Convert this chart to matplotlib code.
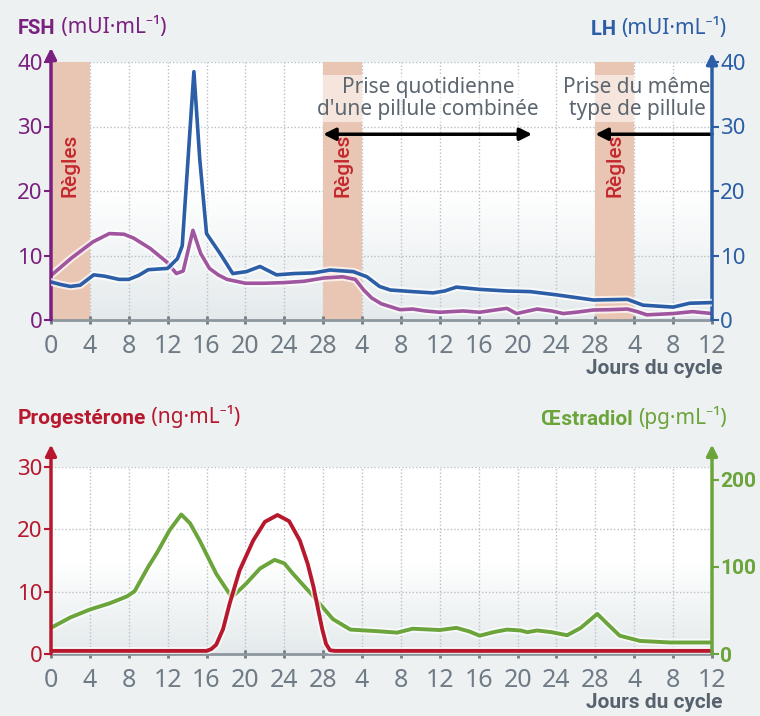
import matplotlib
matplotlib.use("Agg")
import matplotlib.pyplot as plt
import matplotlib.patheffects as pe
from matplotlib.colors import LinearSegmentedColormap
import numpy as np

plt.rcParams['font.family'] = ['Noto Sans', 'DejaVu Sans']
BOLD = dict(fontweight='bold', family=['Roboto', 'DejaVu Sans'])

# ---------------- data ----------------
tick_pos = list(range(0, 69, 4))
tick_labels = ['0', '4', '8', '12', '16', '20', '24', '28',
               '4', '8', '12', '16', '20', '24', '28',
               '4', '8', '12']
regles_spans = [(0, 4), (28, 32), (56, 60)]

fsh_days = [0, 2.1, 4.3, 6, 7.5, 8.5, 10.2, 11.9, 12.9, 13.6, 14.6, 15.4, 16.3, 17.2, 18.1, 20,
            22, 24, 26, 28, 30, 31.3, 32.2, 33, 34, 35.9, 37.2, 38.5, 40, 42.4, 44.1, 45.9,
            46.9, 47.9, 50, 51.5, 52.7, 54, 55.8, 57.5, 59.3, 60.3, 61.3, 64, 66, 68]
fsh_vals = [6.9, 9.6, 12.1, 13.4, 13.3, 12.7, 11.1, 9.0, 7.2, 7.6, 13.9, 10.3, 8.0, 7.0, 6.3, 5.7,
            5.7, 5.8, 6.0, 6.5, 6.7, 6.3, 4.6, 3.4, 2.5, 1.6, 1.7, 1.4, 1.2, 1.4, 1.2, 1.6,
            1.8, 1.0, 1.7, 1.4, 1.0, 1.2, 1.55, 1.6, 1.7, 1.3, 0.8, 1.0, 1.3, 1.0]

lh_days = [0, 1, 2, 3, 4.4, 5.5, 7, 8, 9, 10, 12, 13, 13.5, 14.1, 14.7, 15.3, 16, 17.4, 18.7,
           20.1, 21.5, 23.2, 25, 27, 28.7, 31.1, 32.5, 33.8, 34.9, 37.2, 39.3, 40.5, 41.7, 44.1,
           46.9, 49.3, 52, 55.8, 59.3, 60.9, 64, 65.7, 68]
lh_vals = [5.9, 5.5, 5.2, 5.4, 7.0, 6.8, 6.3, 6.3, 6.9, 7.8, 8.0, 9.5, 11.5, 25, 38.5, 25, 13.4,
           10.3, 7.2, 7.5, 8.3, 7.0, 7.2, 7.3, 7.75, 7.5, 6.7, 5.2, 4.65, 4.4, 4.2, 4.5, 5.1, 4.75,
           4.5, 4.4, 3.9, 3.1, 3.2, 2.3, 2.0, 2.6, 2.7]

prog_days = [0, 16, 16.5, 17, 17.7, 18.4, 19.4, 20.8, 22, 23.3, 24.5, 25.6, 26.4, 27, 27.5,
             27.9, 28.3, 28.7, 29.2, 68]
prog_vals = [0.5, 0.5, 0.8, 1.5, 4.0, 8.2, 13.4, 18.2, 21.2, 22.3, 21.3, 18.2, 14.5, 10.8, 7.0,
             4.0, 1.6, 0.6, 0.5, 0.5]

estr_days = [0, 2, 4, 6, 7.8, 8.6, 10, 10.9, 12.2, 13.4, 14.3, 15.3, 17, 18.6, 20.1, 21.5, 23,
             24, 24.9, 27, 29, 30.8, 33.8, 35.6, 37.2, 40, 41.7, 43, 44.1, 45.5, 46.9, 48.3, 49,
             50, 51.5, 53.1, 54.5, 56.2, 57.2, 58.5, 60.6, 63.7, 67.5, 68]
estr_vals = [30, 42, 51, 58, 66, 72, 100, 116, 142, 160, 150, 130, 92, 65, 81, 98, 108,
             104, 92, 66, 40, 28, 26, 24.5, 29, 27.5, 30, 26, 21, 25, 28, 27, 25,
             27, 25, 21.5, 30, 46, 35, 21, 15, 13.2, 13.2, 13.2]

# ---------------- colours ----------------
C_FSH_AX = '#7a2080'
C_FSH = '#a0569f'
C_LH = '#2b5ea6'
C_PROG = '#b8182e'
C_ESTR = '#6aa43a'
C_BAND = '#e9c6b3'
C_TICK = '#6f7b86'
C_TEXT = '#5b6670'
BG = '#eef1f1'

fig = plt.figure(figsize=(7.6, 7.16), dpi=100, facecolor=BG)

grad_cmap = LinearSegmentedColormap.from_list('g', ['#ffffff', '#ffffff', '#e4eaec'])
grad = np.linspace(0, 1, 256).reshape(-1, 1)

glow = [pe.Stroke(linewidth=5.5, foreground='white', alpha=0.7), pe.Normal()]


def make_panel(rect, ymax, grid_levels):
    bg = fig.add_axes(rect, zorder=0)
    bg.imshow(grad, extent=[0, 1, 0, 1], transform=bg.transAxes, aspect='auto',
              cmap=grad_cmap, zorder=-10)
    bg.set_xlim(0, 68)
    bg.set_ylim(0, ymax)
    bg.axis('off')
    for x in tick_pos[1:-1]:
        bg.axvline(x, color='#b9c0c6', lw=1, ls=(0, (1, 1.5)), zorder=0)
    for y in grid_levels:
        bg.axhline(y, color='#b9c0c6', lw=1, ls=(0, (1, 1.5)), zorder=0)

    ax = fig.add_axes(rect, zorder=3)
    ax.patch.set_visible(False)
    ax.set_xlim(0, 68)
    ax.set_ylim(0, ymax)
    for s in ['top', 'left', 'right']:
        ax.spines[s].set_visible(False)
    ax.spines['bottom'].set_color('#8d979e')
    ax.spines['bottom'].set_linewidth(2)
    ax.set_xticks(tick_pos)
    ax.set_xticklabels(tick_labels)
    ax.tick_params(axis='x', colors=C_TICK, labelsize=18, length=6, width=2,
                   direction='inout', pad=7)
    axb = fig.add_axes(rect, zorder=2)
    axb.patch.set_visible(False)
    axb.set_xlim(0, 68)
    axb.yaxis.tick_right()
    axb.set_xticks([])
    for s in ['top', 'left', 'right', 'bottom']:
        axb.spines[s].set_visible(False)
    return bg, ax, axb


# ================= top chart =================
rect1 = [51 / 760, 1 - 320 / 716, 661 / 760, 258 / 716]
bg1, ax1, ax1b = make_panel(rect1, 40, [10, 20, 30, 40])
for a, b in regles_spans:
    bg1.axvspan(a, b, ymin=0, ymax=1, color=C_BAND, zorder=1, lw=0)
    bg1.text((a + b) / 2, 24, 'Règles', rotation=90, ha='center', va='center',
             color='#c3282d', fontsize=15, fontweight='medium',
             family=['Roboto', 'DejaVu Sans'], zorder=2)

ax1.plot(fsh_days, fsh_vals, color=C_FSH, lw=2.6, zorder=5, path_effects=glow,
         solid_joinstyle='round')
ax1.set_yticks([0, 10, 20, 30, 40])
ax1.tick_params(axis='y', colors=C_FSH_AX, labelsize=16, length=5, width=1.5, pad=1)

ax1b.set_ylim(0, 40)
ax1b.plot(lh_days, lh_vals, color=C_LH, lw=2.6, zorder=5, path_effects=glow,
          solid_joinstyle='round')
ax1b.set_yticks([0, 10, 20, 30, 40])
ax1b.tick_params(axis='y', colors=C_LH, labelsize=16, length=5, width=1.5, pad=1)
ax1b.set_zorder(4)

# axis arrows
ax1.annotate('', xy=(0, 1.055), xytext=(0, 0), xycoords='axes fraction',
             arrowprops=dict(arrowstyle='-|>', color=C_FSH_AX, lw=2.5, mutation_scale=16,
                             shrinkA=0, shrinkB=0), annotation_clip=False, zorder=10)
ax1.annotate('', xy=(1, 1.035), xytext=(1, 0), xycoords='axes fraction',
             arrowprops=dict(arrowstyle='-|>', color=C_LH, lw=2.5, mutation_scale=16,
                             shrinkA=0, shrinkB=0), annotation_clip=False, zorder=10)

# annotations
box = dict(facecolor='white', alpha=0.55, edgecolor='none', pad=1.5)
bg1.text(38.8, 34.3, "Prise quotidienne\nd'une pillule combinée", ha='center', va='center',
         color=C_TEXT, fontsize=15, linespacing=1.05, bbox=box, zorder=3)
bg1.text(60.3, 34.3, "Prise du même\ntype de pillule", ha='center', va='center',
         color=C_TEXT, fontsize=15, linespacing=1.05, bbox=box, zorder=3)
ax1.annotate('', xy=(28, 28.8), xytext=(49.5, 28.8), xycoords='data',
             arrowprops=dict(arrowstyle='<|-|>', color='black', lw=2.5, mutation_scale=18,
                             shrinkA=0, shrinkB=0), zorder=6)
ax1.annotate('', xy=(56, 28.8), xytext=(68, 28.8), xycoords='data',
             arrowprops=dict(arrowstyle='-|>', color='black', lw=2.5, mutation_scale=18,
                             shrinkA=0, shrinkB=0), zorder=6)

fig.text(723 / 760, 1 - 369 / 716, 'Jours du cycle', ha='right', va='center',
         color='#56636f', fontsize=15, **BOLD)

t = fig.text(18 / 760, 1 - 34 / 716, 'FSH', ha='left', va='baseline', color=C_FSH_AX,
             fontsize=14.5, **BOLD)
ax1.annotate(' (mUI·mL⁻¹)', xy=(1, 0), xycoords=t, ha='left', va='bottom',
             color=C_FSH_AX, fontsize=15, annotation_clip=False)
t2 = fig.text(726 / 760, 1 - 34 / 716, '(mUI·mL⁻¹)', ha='right', va='baseline', color=C_LH,
              fontsize=15)
ax1.annotate('LH ', xy=(0, 0), xycoords=t2, ha='right', va='bottom', color=C_LH,
             fontsize=14.5, annotation_clip=False, **BOLD)

# ================= bottom chart =================
rect2 = [51 / 760, 1 - 654 / 716, 661 / 760, 187 / 716]
bg2, ax2, ax2b = make_panel(rect2, 30, [10, 20, 30])
ax2.plot(prog_days, prog_vals, color=C_PROG, lw=2.8, zorder=6, path_effects=glow,
         solid_joinstyle='round')
ax2.set_yticks([0, 10, 20, 30])
ax2.tick_params(axis='y', colors=C_PROG, labelsize=16, length=5, width=1.5, pad=1)

ax2b.set_ylim(0, 214.5)
ax2b.plot(estr_days, estr_vals, color=C_ESTR, lw=2.8, zorder=5, path_effects=glow,
          solid_joinstyle='round')
ax2b.set_yticks([0, 100, 200])
ax2b.tick_params(axis='y', colors=C_ESTR, labelsize=15, length=5, width=1.5, pad=1)
for lab in ax2b.get_yticklabels():
    lab.set_fontweight('bold')
    lab.set_family(['Roboto', 'DejaVu Sans'])

ax2.annotate('', xy=(0, 1.12), xytext=(0, 0), xycoords='axes fraction',
             arrowprops=dict(arrowstyle='-|>', color=C_PROG, lw=2.5, mutation_scale=16,
                             shrinkA=0, shrinkB=0), annotation_clip=False, zorder=10)
ax2.annotate('', xy=(1, 1.12), xytext=(1, 0), xycoords='axes fraction',
             arrowprops=dict(arrowstyle='-|>', color=C_ESTR, lw=2.5, mutation_scale=16,
                             shrinkA=0, shrinkB=0), annotation_clip=False, zorder=10)

fig.text(723 / 760, 1 - 703 / 716, 'Jours du cycle', ha='right', va='center',
         color='#56636f', fontsize=15, **BOLD)

t3 = fig.text(18 / 760, 1 - 424 / 716, 'Progestérone', ha='left', va='baseline', color=C_PROG,
              fontsize=15, **BOLD)
ax2.annotate(' (ng·mL⁻¹)', xy=(1, 0), xycoords=t3, ha='left', va='bottom',
             color=C_PROG, fontsize=15, annotation_clip=False)
t4 = fig.text(727 / 760, 1 - 424 / 716, '(pg·mL⁻¹)', ha='right', va='baseline', color=C_ESTR,
              fontsize=15)
ax2.annotate('Œstradiol ', xy=(0, 0), xycoords=t4, ha='right', va='bottom', color=C_ESTR,
             fontsize=15, annotation_clip=False, **BOLD)

fig.savefig('out.png', dpi=100, facecolor=BG)
